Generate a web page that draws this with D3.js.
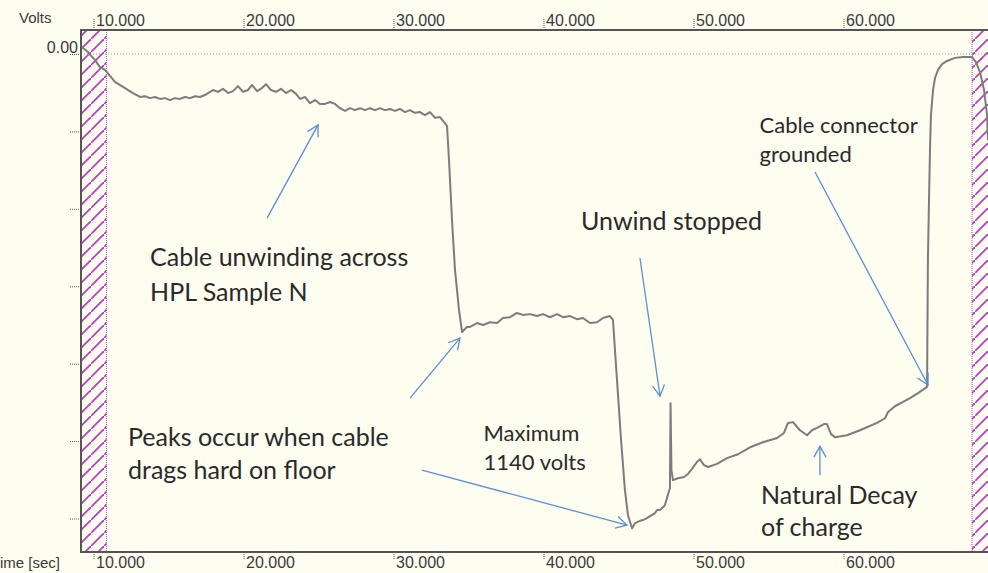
<!DOCTYPE html>
<html lang="en">
<head>
	<meta charset="UTF-8">
	<title>Cable unwinding - volts vs time</title>
	<style type="text/css">
		body{
			margin: 0;
			background: #fdfdf0;
		}
		.axis text {
			font-family: "Liberation Sans", Arial, sans-serif;
			font-size: 16px;
			fill: #3a3a3a;
		}
		.axis line {
			stroke: #555;
			stroke-dasharray: 1,1;
		}
		.axis .domain { display: none; }
		.frame {
			stroke: #555;
			stroke-width: 2;
		}
		.trace {
			fill: none;
			stroke: #7c7c7c;
			stroke-width: 2;
			stroke-linejoin: round;
		}
		.note {
			font-family: Lato, "Open Sans", sans-serif;
			fill: #2a2a2a;
		}
		.arrow {
			stroke: #5b8fd4;
			stroke-width: 1.3;
			fill: none;
		}
	</style>
	<script src="https://d3js.org/d3.v7.min.js"></script>
</head>
<body>
<script type="text/javascript">
	// time (sec) and voltage (V) of the trace
	var times = [9.23, 9.63, 10.10, 10.43, 10.77, 11.43, 12.10, 12.63, 13.10, 13.43, 13.77, 14.10, 14.43, 14.77,
		15.10, 15.43, 15.77, 16.10, 16.43, 16.77, 17.10, 17.43, 17.77,
		17.97, 18.30, 18.63, 18.97, 19.30, 19.63, 19.97, 20.30, 20.57, 20.90, 21.23, 21.50, 21.83, 22.17,
		22.50, 22.83, 23.17, 23.50, 23.77, 24.10, 24.43, 24.77, 25.10, 25.43, 25.77, 26.10, 26.43, 26.77,
		27.10, 27.43, 27.77, 28.10, 28.43, 28.77, 29.10, 29.43, 29.77, 30.10, 30.43, 30.77, 31.10, 31.43,
		31.77, 32.10, 32.43, 32.77, 33.10, 33.37, 33.57,
		33.70, 33.90, 34.10, 34.37, 34.57, 34.90, 35.10, 35.57, 35.97, 36.43, 36.90, 37.30, 37.77, 38.23,
		38.63, 39.10, 39.57, 39.97, 40.43, 40.90, 41.30, 41.77, 42.23, 42.63, 43.10, 43.57, 43.97, 44.43, 44.63,
		44.90, 45.17, 45.43, 45.63, 45.90, 46.10, 46.43, 46.63, 46.90, 47.10, 47.43, 47.57, 47.77, 47.97,
		48.10, 48.23, 48.43,
		48.47, 48.53, 48.63, 48.97, 49.37, 49.63, 49.90, 50.23, 50.43, 50.70, 50.97, 51.57, 52.23, 52.97, 53.77,
		54.63, 55.57, 56.03, 56.30, 56.63, 57.10, 57.57, 57.90, 58.23, 58.70, 58.90, 59.17, 59.43, 60.23,
		61.10, 62.23, 62.77, 62.97, 63.43, 63.97, 64.43, 64.97, 65.57,
		65.60, 65.63, 65.70, 65.77, 65.83, 65.97, 66.10, 66.30, 66.57, 66.90, 67.43, 67.97, 68.57,
		68.83, 69.10, 69.37, 69.57, 69.63];
	var volts = [18, 5, -16, -34, -41, -72, -88, -101, -111, -109, -114, -111, -116, -114,
		-119, -114, -116, -111, -114, -109, -111, -106, -98,
		-93, -98, -90, -101, -96, -83, -98, -93, -80, -96, -88, -78, -93, -98,
		-90, -101, -93, -103, -116, -111, -127, -119, -129, -129, -124, -129, -140, -147,
		-140, -145, -140, -145, -140, -145, -140, -145, -142, -147, -142, -150, -145, -152,
		-150, -158, -150, -165, -163, -176, -186,
		-274, -429, -558, -662, -718, -705, -705, -695, -700, -693, -695, -682, -680, -669,
		-674, -672, -677, -672, -680, -672, -680, -677, -685, -682, -695, -693, -682, -677, -687,
		-842, -997, -1127, -1191, -1225, -1212, -1206, -1204, -1199, -1194, -1186, -1178, -1178, -1171,
		-1165, -1147, -1121,
		-902, -1075, -1101, -1096, -1093, -1085, -1072, -1054, -1047, -1062, -1067, -1059, -1044, -1034, -1016,
		-1003, -992, -979, -953, -951, -972, -985, -972, -966, -956, -956, -982, -990, -985,
		-972, -953, -941, -925, -910, -899, -889, -876, -860,
		-687, -525, -377, -240, -158, -93, -62, -41, -26, -18, -10, -8, -8,
		-21, -47, -93, -158, -222];

	var xTicks = [10, 20, 30, 40, 50, 60];
	var yTicks = [0, -200, -400, -600, -800, -1000, -1200];

	// time ranges outside the recording window (hatched)
	var hatchStart = [9.167, 68.57];
	var hatchEnd = [10.87, 69.7];

	// annotation texts and arrows, anchored in data units
	var noteLines = [
		["Cable unwinding across", "HPL Sample N"],
		["Peaks occur when cable", "drags hard on floor"],
		["Maximum", "1140 volts"],
		["Unwind stopped"],
		["Cable connector", "grounded"],
		["Natural Decay", "of charge"]
	];
	var noteTime = [13.77, 12.3, 36.0, 42.5, 54.4, 54.5];
	var noteVolt = [-548, -1013, -1000, -455, -204, -1163];
	var noteSize = [25, 25, 22, 25, 22, 25];
	var noteGap = [35, 33, 29, 0, 29, 32];

	var arrowFromT = [21.57, 31.10, 31.90, 46.43, 58.10, 58.43];
	var arrowFromV = [-424, -889, -1075, -527, -305, -1088];
	var arrowToT = [24.97, 34.43, 45.57, 47.77, 65.63, 58.43];
	var arrowToV = [-183, -734, -1217, -884, -855, -1013];

	var fullWidth = 988, fullHeight = 573;
	var plot = {left: 81, right: 988, top: 30, bottom: 552};

	var xScale = d3.scaleLinear().domain([10, 60]).range([93.5, 843.5]);
	var yScale = d3.scaleLinear().domain([0, -1200]).range([54, 518.5]);

	var svg = d3.select('body')
		.append('svg')
		.attr('width', fullWidth)
		.attr('height', fullHeight);

	svg.append('rect')
		.attr('width', fullWidth)
		.attr('height', fullHeight)
		.attr('fill', '#fdfdf0');

	var defs = svg.append('defs');

	// diagonal hatch pattern
	var pattern = defs.append('pattern')
		.attr('id', 'hatch')
		.attr('patternUnits', 'userSpaceOnUse')
		.attr('width', 13)
		.attr('height', 13);
	pattern.append('path')
		.attr('d', 'M-2,15 L15,-2')
		.attr('stroke', '#b540c6')
		.attr('stroke-width', 1.8);

	defs.append('clipPath')
		.attr('id', 'clip')
		.append('rect')
		.attr('x', plot.left)
		.attr('y', plot.top)
		.attr('width', plot.right - plot.left)
		.attr('height', plot.bottom - plot.top);

	defs.append('marker')
		.attr('id', 'head')
		.attr('markerUnits', 'userSpaceOnUse')
		.attr('viewBox', '-12 -7 14 14')
		.attr('markerWidth', 14)
		.attr('markerHeight', 14)
		.attr('orient', 'auto')
		.append('path')
		.attr('d', 'M-11,-6 L0,0 L-11,6')
		.attr('fill', 'none')
		.attr('stroke', '#5b8fd4')
		.attr('stroke-width', 1.3);

	// hatched regions
	var hatchG = svg.append('g').attr('clip-path', 'url(#clip)');
	hatchStart.forEach(function(s, i){
		var x0 = xScale(s), x1 = xScale(hatchEnd[i]);
		hatchG.append('rect')
			.attr('x', x0)
			.attr('y', plot.top)
			.attr('width', x1 - x0)
			.attr('height', plot.bottom - plot.top)
			.attr('fill', 'url(#hatch)');
	});
	// dotted window borders
	[hatchEnd[0], hatchStart[1]].forEach(function(t){
		hatchG.append('line')
			.attr('x1', xScale(t)).attr('x2', xScale(t))
			.attr('y1', plot.top).attr('y2', plot.bottom)
			.attr('stroke', '#c050d0')
			.attr('stroke-width', 1)
			.attr('stroke-dasharray', '1,1');
	});

	// zero line
	svg.append('line')
		.attr('x1', plot.left)
		.attr('x2', plot.right)
		.attr('y1', yScale(0))
		.attr('y2', yScale(0))
		.attr('stroke', '#9a9a9a')
		.attr('stroke-dasharray', '1,2');

	// axes
	var topAxis = svg.append('g')
		.attr('class', 'axis')
		.attr('transform', 'translate(0,' + plot.top + ')')
		.call(d3.axisTop(xScale).tickValues(xTicks).tickSize(11).tickFormat(d3.format('.3f')));
	topAxis.selectAll('text')
		.attr('text-anchor', 'start')
		.attr('x', 2)
		.attr('y', -4)
		.attr('dy', '0');

	var bottomAxis = svg.append('g')
		.attr('class', 'axis')
		.attr('transform', 'translate(0,' + plot.bottom + ')')
		.call(d3.axisBottom(xScale).tickValues(xTicks).tickSize(8).tickFormat(d3.format('.3f')));
	bottomAxis.selectAll('text')
		.attr('text-anchor', 'start')
		.attr('x', 2)
		.attr('y', 16)
		.attr('dy', '0');

	var leftAxis = svg.append('g')
		.attr('class', 'axis')
		.attr('transform', 'translate(' + plot.left + ',0)')
		.call(d3.axisLeft(yScale).tickValues(yTicks).tickSize(11)
			.tickFormat(function(d){ return d === 0 ? '0.00' : ''; }));
	leftAxis.selectAll('text')
		.attr('x', -3)
		.attr('dy', '-0.1em');

	// frame
	svg.append('line').attr('class', 'frame')
		.attr('x1', plot.left).attr('x2', plot.right)
		.attr('y1', plot.top).attr('y2', plot.top);
	svg.append('line').attr('class', 'frame')
		.attr('x1', plot.left).attr('x2', plot.right)
		.attr('y1', plot.bottom).attr('y2', plot.bottom);
	svg.append('line').attr('class', 'frame')
		.attr('x1', plot.left).attr('x2', plot.left)
		.attr('y1', plot.top - 1).attr('y2', plot.bottom + 1);

	// axis titles
	svg.append('text')
		.attr('x', 19)
		.attr('y', 23)
		.style('font-family', '"Liberation Sans", Arial, sans-serif')
		.style('font-size', '15px')
		.style('fill', '#3a3a3a')
		.text('Volts');

	svg.append('text')
		.attr('x', 0)
		.attr('y', 568)
		.style('font-family', '"Liberation Sans", Arial, sans-serif')
		.style('font-size', '15px')
		.style('fill', '#3a3a3a')
		.text('ime [sec]');

	// the trace
	var points = times.map(function(t, i){ return [t, volts[i]]; });
	var line = d3.line()
		.x(function(d){ return xScale(d[0]); })
		.y(function(d){ return yScale(d[1]); });

	svg.append('path')
		.datum(points)
		.attr('class', 'trace')
		.attr('clip-path', 'url(#clip)')
		.attr('d', line);

	// arrows
	arrowFromT.forEach(function(t, i){
		svg.append('line')
			.attr('class', 'arrow')
			.attr('x1', xScale(t))
			.attr('y1', yScale(arrowFromV[i]))
			.attr('x2', xScale(arrowToT[i]))
			.attr('y2', yScale(arrowToV[i]))
			.attr('marker-end', 'url(#head)');
	});

	// notes
	noteLines.forEach(function(lines, i){
		var txt = svg.append('text')
			.attr('class', 'note')
			.attr('x', xScale(noteTime[i]))
			.attr('y', yScale(noteVolt[i]))
			.style('font-size', noteSize[i] + 'px');
		lines.forEach(function(s, j){
			txt.append('tspan')
				.attr('x', xScale(noteTime[i]))
				.attr('dy', j === 0 ? 0 : noteGap[i])
				.text(s);
		});
	});
</script>
</body>
</html>
